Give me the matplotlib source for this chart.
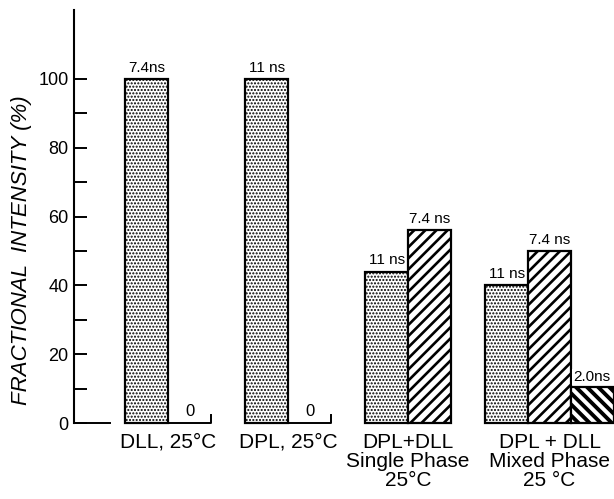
import matplotlib
matplotlib.use("Agg")
import matplotlib.pyplot as plt
import numpy as np

plt.rcParams["font.family"] = ["Liberation Sans", "DejaVu Sans"]

group_labels = [
    "DLL, 25°C",
    "DPL, 25°C",
    "DPL+DLL\nSingle Phase\n25°C",
    "DPL + DLL\nMixed Phase\n25 °C",
]
stipple_values = [100, 100, 44, 40]
stipple_labels = ["7.4ns", "11 ns", "11 ns", "11 ns"]
hatch_values = [0, 0, 56, 50]
hatch_labels = ["0", "0", "7.4 ns", "7.4 ns"]
dark_values = [None, None, None, 10.5]
dark_labels = [None, None, None, "2.0ns"]

y_major = [0, 20, 40, 60, 80, 100]
y_minor = [10, 30, 50, 70, 90]


def _bar(ax, x, h, hatch, hatch_lw):
    plt.rcParams["hatch.linewidth"] = hatch_lw
    bars = ax.bar(x, h, width=1.0, align="edge", facecolor="white",
                  edgecolor="black", linewidth=1.6, hatch=hatch, clip_on=False, zorder=2)
    for b in bars:
        if hasattr(b, "set_hatch_linewidth"):
            b.set_hatch_linewidth(hatch_lw)
    return bars


fig = plt.figure(figsize=(6.14, 4.99), dpi=100)
ax = fig.add_axes([74 / 614, 76 / 499, 540 / 614, 413 / 499])

group_step = 2.79
first_left = 1.19
tick_h = 2.4

for i, label in enumerate(group_labels):
    left = first_left + group_step * i

    _bar(ax, [left], [stipple_values[i]], ".....", 1.0)
    ax.text(left + 0.5, stipple_values[i] + 1.2, stipple_labels[i],
            ha="center", va="bottom", fontsize=11)

    if hatch_values[i] == 0:
        # empty slot: baseline with a small end tick
        ax.plot([left + 1, left + 2, left + 2], [0, 0, tick_h],
                color="black", linewidth=1.4, clip_on=False, zorder=3)
        ax.text(left + 1.5, 1.2, hatch_labels[i], ha="center", va="bottom", fontsize=12)
    else:
        _bar(ax, [left + 1], [hatch_values[i]], "///", 1.9)
        ax.text(left + 1.5, hatch_values[i] + 1.2, hatch_labels[i],
                ha="center", va="bottom", fontsize=11)

    n_slots = 2
    if dark_values[i] is not None:
        _bar(ax, [left + 2], [dark_values[i]], "\\\\\\", 2.8)
        ax.text(left + 2.05, dark_values[i] + 0.8, dark_labels[i],
                ha="left", va="bottom", fontsize=11,
                bbox=dict(facecolor="white", edgecolor="none", pad=1))
        n_slots = 3

    ax.text(left + n_slots / 2, -2.8, label, ha="center", va="top",
            fontsize=15, linespacing=1.0)

# zero line stub next to the axis
ax.plot([0, 0.84], [0, 0], color="black", linewidth=1.4, clip_on=False, zorder=3)

ax.set_xlim(0, 540 / 43)
ax.set_ylim(0, 120)
ax.set_xticks([])
ax.set_yticks(y_major)
ax.set_yticks(y_minor, minor=True)
ax.set_yticklabels([str(v) for v in y_major], fontsize=13)
ax.tick_params(axis="y", which="both", direction="in", length=9.5, width=1.4, pad=4)
for side in ["top", "right", "bottom"]:
    ax.spines[side].set_visible(False)
ax.spines["left"].set_linewidth(1.5)
ax.patch.set_visible(False)

fig.text(22 / 614, 1 - 250 / 499, "FRACTIONAL  INTENSITY (%)", rotation=90,
         ha="center", va="center", fontsize=16, style="italic")

fig.savefig("out.png", dpi=100)
